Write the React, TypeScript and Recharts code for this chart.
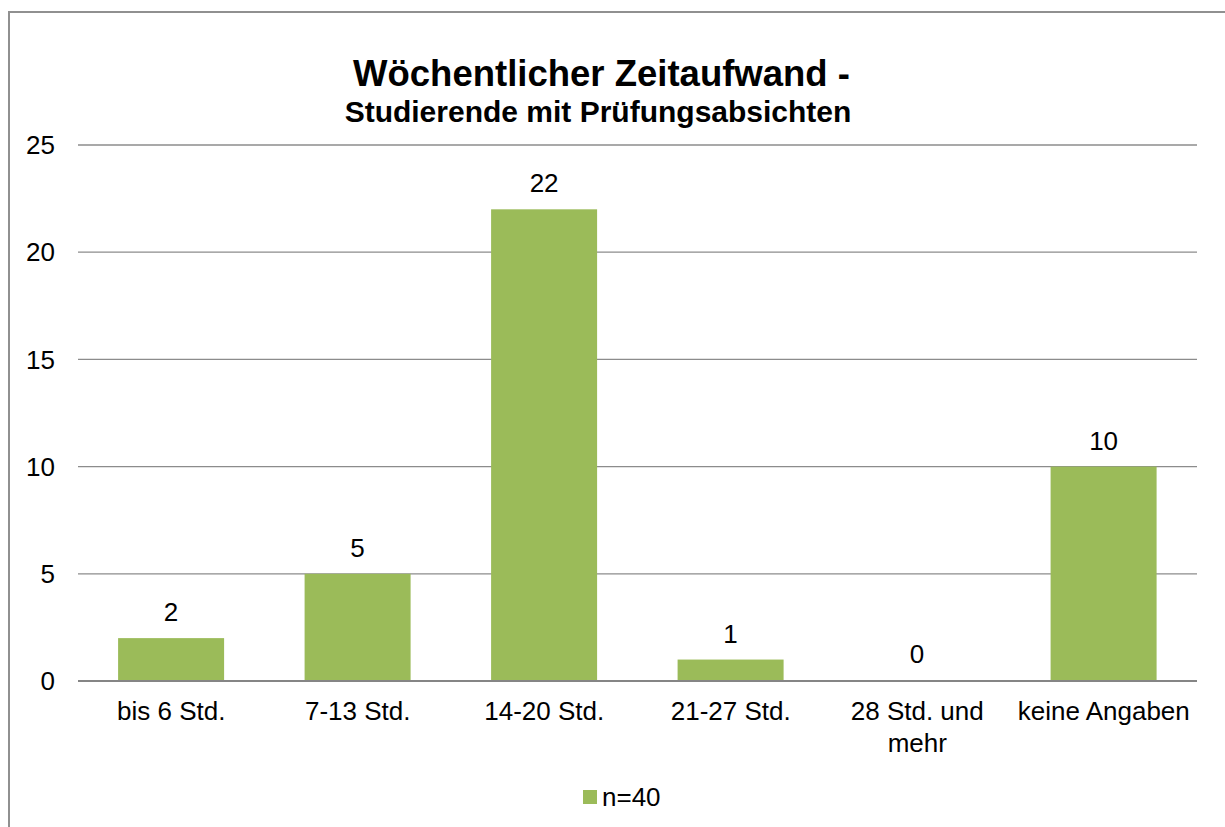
import React from 'react';
import {
  BarChart,
  Bar,
  XAxis,
  YAxis,
  CartesianGrid,
  LabelList,
  Legend,
} from 'recharts';

// Kategorien und Werte (Anzahl Studierende)
const categories = [
  'bis 6 Std.',
  '7-13 Std.',
  '14-20 Std.',
  '21-27 Std.',
  '28 Std. und mehr',
  'keine Angaben',
];
const values = [2, 5, 22, 1, 0, 10];
const yTicks = [0, 5, 10, 15, 20, 25];
const seriesName = 'n=40';

const FONT = '"Liberation Sans", Arial, sans-serif';
const BAR_COLOR = '#9BBB59';
const GRID_COLOR = '#8c8c8c';
const TEXT_SIZE = 26;

const data = categories.map((name, i) => ({ name, value: values[i] }));

// Zeilenumbruch für lange Achsenbeschriftungen
function wrapLabel(label: string, maxChars = 14) {
  const words = label.split(' ');
  const lines: string[] = [];
  let cur = '';
  words.forEach((w) => {
    const next = cur ? `${cur} ${w}` : w;
    if (next.length > maxChars && cur) {
      lines.push(cur);
      cur = w;
    } else {
      cur = next;
    }
  });
  if (cur) lines.push(cur);
  return lines;
}

const CategoryTick = (props: any) => {
  const { x, y, payload } = props;
  const lines = wrapLabel(String(payload.value));
  return (
    <g>
      {lines.map((line, i) => (
        <text
          key={i}
          x={x}
          y={y + 39 + i * 32}
          textAnchor="middle"
          fill="#000"
          fontSize={TEXT_SIZE}
          fontFamily={FONT}
        >
          {line}
        </text>
      ))}
    </g>
  );
};

// Balken: bei Wert 0 nichts zeichnen (nur die Beschriftung bleibt)
const BarShape = (props: any) => {
  const { x, y, width, height, fill, payload } = props;
  if (!payload || Number(payload.value) <= 0) return null;
  return <rect x={x} y={y} width={width} height={height} fill={fill} />;
};

// Wertbeschriftung über dem Balken (auch für 0)
const renderValueLabel = (p: any) => {
  const { x, y, width, height, value } = p;
  const top = Math.min(Number(y), Number(y) + Number(height || 0));
  return (
    <text
      x={Number(x) + Number(width) / 2}
      y={top - 17}
      textAnchor="middle"
      fill="#000"
      fontSize={TEXT_SIZE}
      fontFamily={FONT}
    >
      {value}
    </text>
  );
};

const renderLegend = () => (
  <div
    style={{
      height: 26,
      display: 'flex',
      alignItems: 'center',
      fontFamily: FONT,
      fontSize: TEXT_SIZE,
      lineHeight: '26px',
      color: '#000',
    }}
  >
    <span
      style={{
        display: 'inline-block',
        width: 14,
        height: 14,
        background: BAR_COLOR,
        marginRight: 5,
      }}
    />
    <span>{seriesName}</span>
  </div>
);

export default function App() {
  return (
    <div
      style={{
        position: 'fixed',
        left: 0,
        top: 0,
        width: 1225,
        height: 827,
        background: '#fff',
        overflow: 'hidden',
        fontFamily: FONT,
      }}
    >
      {/* Rahmen des Diagrammbereichs */}
      <div
        style={{
          position: 'absolute',
          left: 8,
          top: 11,
          width: 1260,
          height: 860,
          border: '2px solid #909090',
        }}
      />

      {/* Titel */}
      <div
        style={{
          position: 'absolute',
          left: 0,
          width: 1203,
          top: 56,
          textAlign: 'center',
          fontSize: 36.5,
          lineHeight: '36.5px',
          fontWeight: 'bold',
          color: '#000',
        }}
      >
        Wöchentlicher Zeitaufwand -
      </div>
      <div
        style={{
          position: 'absolute',
          left: 0,
          width: 1196,
          top: 97,
          textAlign: 'center',
          fontSize: 30,
          lineHeight: '30px',
          fontWeight: 'bold',
          color: '#000',
        }}
      >
        Studierende mit Prüfungsabsichten
      </div>

      <div style={{ position: 'absolute', left: 0, top: 0 }}>
        <BarChart
          width={1225}
          height={827}
          data={data}
          margin={{ top: 145, right: 28, bottom: 17, left: 18 }}
          barCategoryGap="21.5%"
        >
          <CartesianGrid
            vertical={false}
            stroke={GRID_COLOR}
            strokeWidth={1.3}
          />
          <XAxis
            dataKey="name"
            interval={0}
            height={103}
            tickLine={false}
            tickSize={0}
            tickMargin={0}
            axisLine={{ stroke: '#858585', strokeWidth: 2 }}
            tick={<CategoryTick />}
          />
          <YAxis
            width={60}
            domain={[0, 25]}
            ticks={yTicks}
            axisLine={false}
            tickLine={false}
            tickSize={0}
            tickMargin={23}
            tick={{ fill: '#000', fontSize: TEXT_SIZE, fontFamily: FONT }}
          />
          <Legend
            verticalAlign="bottom"
            align="left"
            content={renderLegend}
            wrapperStyle={{ left: 583, width: 200 }}
          />
          <Bar
            dataKey="value"
            name={seriesName}
            fill={BAR_COLOR}
            minPointSize={1}
            shape={<BarShape />}
            isAnimationActive={false}
          >
            <LabelList dataKey="value" content={renderValueLabel} />
          </Bar>
        </BarChart>
      </div>
    </div>
  );
}
